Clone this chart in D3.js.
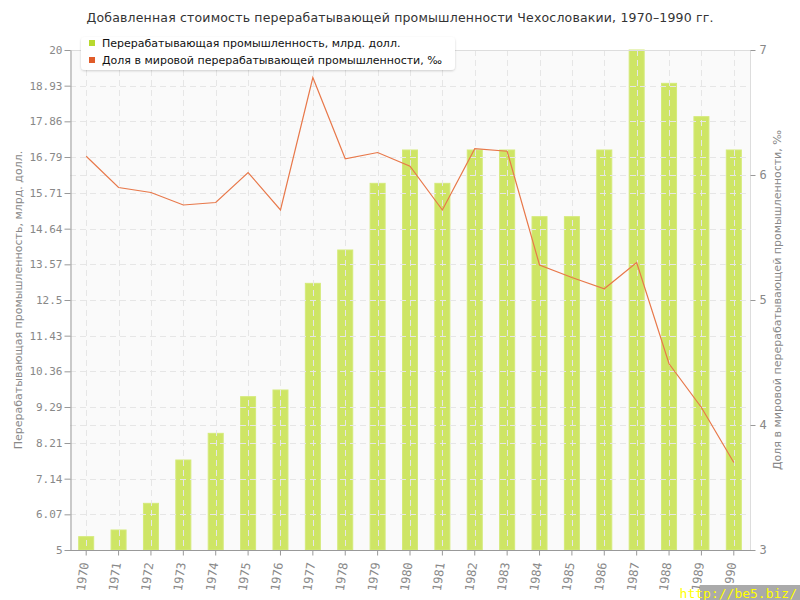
<!DOCTYPE html>
<html>
<head>
<meta charset="utf-8">
<script src="https://cdn.jsdelivr.net/npm/d3@7"></script>
<style>
body { margin: 0; background: #fff; }
svg { display: block; }
.tick text { fill: #888; font-family: "DejaVu Sans Mono", monospace; font-size: 11px; }
.grid line { stroke: #e6e6e6; stroke-dasharray: 6,4; }
</style>
</head>
<body>
<svg id="svg" width="800" height="600"></svg>
<script>
var years = ["1970","1971","1972","1973","1974","1975","1976","1977","1978","1979","1980",
             "1981","1982","1983","1984","1985","1986","1987","1988","1989","1990"];
// value added, bn USD
var valueAdded = [5.4, 5.6, 6.4, 7.7, 8.5, 9.6, 9.8, 13, 14, 16, 17,
                  16, 17, 17, 15, 15, 17, 20, 19, 18, 17];
// share of world manufacturing, per mille
var worldShare = [6.15, 5.9, 5.86, 5.76, 5.78, 6.02, 5.72, 6.78, 6.13, 6.18, 6.07,
                  5.72, 6.21, 6.19, 5.28, 5.18, 5.09, 5.3, 4.49, 4.14, 3.7];
var leftTicks = [5, 6.07, 7.14, 8.21, 9.29, 10.36, 11.43, 12.5, 13.57, 14.64, 15.71, 16.79, 17.86, 18.93, 20];
var rightTicks = [3, 4, 5, 6, 7];

var title = "Добавленная стоимость перерабатывающей промышленности Чехословакии, 1970–1990 гг.";
var seriesNames = ["Перерабатывающая промышленность, млрд. долл.",
                   "Доля в мировой перерабатывающей промышленности, ‰"];

var svg = d3.select("#svg");
var pLeft = 70, pRight = 750, pTop = 50, pBottom = 550;

var x = d3.scaleBand().domain(years).range([pLeft, pRight]);
var yL = d3.scaleLinear().domain([5, 20]).range([pBottom, pTop]);
var yR = d3.scaleLinear().domain([3, 7]).range([pBottom, pTop]);

function cx(i) { return x(years[i]) + x.bandwidth() / 2; }

svg.append("rect")
    .attr("x", pLeft).attr("y", pTop)
    .attr("width", pRight - pLeft).attr("height", pBottom - pTop)
    .attr("fill", "#fafafa");

// bars
svg.append("g").selectAll("rect")
    .data(valueAdded)
    .enter().append("rect")
    .attr("x", function(d, i) { return cx(i) - 7.5; })
    .attr("y", function(d) { return yL(d); })
    .attr("width", 15)
    .attr("height", function(d) { return pBottom - yL(d); })
    .attr("fill", "#c6e14a")
    .attr("fill-opacity", 0.85)
    .attr("stroke", "#d4ea7a")
    .attr("stroke-width", 1);

// grid on top of bars
var grid = svg.append("g").attr("class", "grid");
grid.selectAll(".hl").data(leftTicks.slice(1, -1)).enter().append("line")
    .attr("x1", pLeft).attr("x2", pRight)
    .attr("y1", function(d) { return Math.round(yL(d)) + 0.5; })
    .attr("y2", function(d) { return Math.round(yL(d)) + 0.5; });
grid.selectAll(".hr").data(rightTicks.slice(1, -1)).enter().append("line")
    .attr("x1", pLeft).attr("x2", pRight)
    .attr("y1", function(d) { return Math.round(yR(d)) + 0.5; })
    .attr("y2", function(d) { return Math.round(yR(d)) + 0.5; });
grid.selectAll(".v").data(years).enter().append("line")
    .attr("y1", pTop).attr("y2", pBottom)
    .attr("x1", function(d, i) { return Math.round(cx(i)) + 0.5; })
    .attr("x2", function(d, i) { return Math.round(cx(i)) + 0.5; });

// line
var line = d3.line()
    .x(function(d, i) { return cx(i); })
    .y(function(d) { return yR(d); });
svg.append("path")
    .datum(worldShare)
    .attr("d", line)
    .attr("fill", "none")
    .attr("stroke", "#e8784a")
    .attr("stroke-width", 1.2);

// borders
svg.append("line").attr("x1", pLeft).attr("x2", pRight).attr("y1", pTop + 0.5).attr("y2", pTop + 0.5).attr("stroke", "#ddd");
svg.append("line").attr("x1", pRight + 0.5).attr("x2", pRight + 0.5).attr("y1", pTop).attr("y2", pBottom).attr("stroke", "#ddd");

// axes
var axL = svg.append("g").attr("transform", "translate(" + (pLeft + 0.5) + ",0)")
    .call(d3.axisLeft(yL).tickValues(leftTicks).tickFormat(function(d) { return String(d); }).tickSize(6).tickSizeOuter(0));
var axR = svg.append("g").attr("transform", "translate(" + (pRight + 0.5) + ",0)")
    .call(d3.axisRight(yR).tickValues(rightTicks).tickFormat(d3.format("d")).tickSize(5).tickSizeOuter(0));
axR.select(".domain").remove();
var axB = svg.append("g").attr("transform", "translate(0," + (pBottom + 0.5) + ")")
    .call(d3.axisBottom(x).tickSize(5).tickSizeOuter(0));
axB.select(".domain").attr("d", "M" + pLeft + ",0H" + (pRight + 5));
axB.selectAll(".tick text")
    .attr("transform", "rotate(-82)")
    .attr("text-anchor", "end")
    .attr("dx", "-1em")
    .attr("dy", "0.35em")
    .attr("y", 0).attr("x", 0)
    .style("font-size", "12px");
[axL, axR, axB].forEach(function(a) {
    a.selectAll(".domain").attr("stroke", "#999");
    a.selectAll(".tick line").attr("stroke", "#999");
});
axL.selectAll(".tick text").attr("x", -8);
axR.selectAll(".tick text").attr("x", 9).style("font-size", "12px");

// title
svg.append("text")
    .attr("x", 400).attr("y", 22)
    .attr("text-anchor", "middle")
    .attr("font-family", "DejaVu Sans")
    .attr("font-size", "12.5px")
    .attr("fill", "#333")
    .attr("textLength", 627)
    .text(title);

// axis titles
svg.append("text")
    .attr("transform", "translate(22,300) rotate(-90)")
    .attr("text-anchor", "middle")
    .attr("font-family", "DejaVu Sans")
    .attr("font-size", "11px")
    .attr("fill", "#888")
    .text(seriesNames[0]);
svg.append("text")
    .attr("transform", "translate(781,300) rotate(-90)")
    .attr("text-anchor", "middle")
    .attr("font-family", "DejaVu Sans")
    .attr("font-size", "11px")
    .attr("fill", "#888")
    .text(seriesNames[1]);

// legend
var defs = svg.append("defs");
var f = defs.append("filter").attr("id", "sh").attr("x", "-10%").attr("y", "-30%").attr("width", "120%").attr("height", "160%");
f.append("feDropShadow").attr("dx", 0).attr("dy", 1).attr("stdDeviation", 1.2).attr("flood-color", "#000").attr("flood-opacity", 0.18);
var lg = svg.append("g");
lg.append("rect").attr("x", 81).attr("y", 37).attr("width", 374).attr("height", 33)
    .attr("rx", 4).attr("fill", "#fff").attr("filter", "url(#sh)");
var legColors = ["#b8d92e", "#e05c2a"];
seriesNames.forEach(function(n, i) {
    lg.append("rect").attr("x", 89).attr("y", 40 + i * 17).attr("width", 6).attr("height", 6).attr("fill", legColors[i]);
    lg.append("text").attr("x", 102).attr("y", 47 + i * 17)
        .attr("font-family", "DejaVu Sans").attr("font-size", "11px").attr("fill", "#111")
        .text(n);
});

// watermark
svg.append("rect").attr("x", 700).attr("y", 585).attr("width", 100).attr("height", 15).attr("fill", "#aaa");
svg.append("text").attr("x", 797).attr("y", 598).attr("text-anchor", "end")
    .attr("font-family", "DejaVu Sans Mono").attr("font-size", "13px").attr("fill", "#ff0")
    .text("http://be5.biz/");
</script>
</body>
</html>
